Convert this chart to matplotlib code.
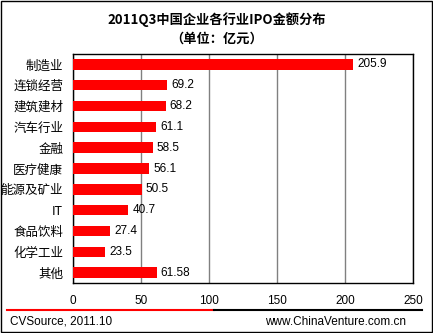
import matplotlib
matplotlib.use("Agg")
import matplotlib.pyplot as plt
from matplotlib.patches import Rectangle
from matplotlib.lines import Line2D

plt.rcParams['font.family'] = ['Noto Sans CJK SC', 'DejaVu Sans']

# 各行业IPO金额(亿元)
industries = ['制造业', '连锁经营', '建筑建材', '汽车行业', '金融', '医疗健康',
              '能源及矿业', 'IT', '食品饮料', '化学工业', '其他']
amounts = [205.9, 69.2, 68.2, 61.1, 58.5, 56.1, 50.5, 40.7, 27.4, 23.5, 61.58]
value_labels = ['205.9', '69.2', '68.2', '61.1', '58.5', '56.1', '50.5',
                '40.7', '27.4', '23.5', '61.58']
xticks = [0, 50, 100, 150, 200, 250]

fig = plt.figure(figsize=(4.33, 3.33), dpi=100)
ax = fig.add_axes([73/433, 1-283/333, 340/433, 229/333])

ypos = list(range(len(industries)))
ax.barh(ypos, amounts, height=0.5, color='#ff0000', zorder=3)
for y, v, s in zip(ypos, amounts, value_labels):
    ax.text(v + 3, y, s, va='center', ha='left', fontsize=8.5,
            family='Liberation Sans', zorder=4)

ax.set_ylim(len(industries) - 0.5, -0.5)
ax.set_xlim(0, 250)
ax.set_xticks(xticks)
ax.set_xticklabels([str(t) for t in xticks], family='Liberation Sans', fontsize=8.5)
ax.set_yticks(ypos)
ax.set_yticklabels(industries, fontsize=9)
ax.tick_params(axis='both', length=0, pad=7)
ax.tick_params(axis='x', pad=9)
ax.grid(axis='x', color='#808080', linewidth=1, zorder=0)
for sp in ax.spines.values():
    sp.set_color('black')
    sp.set_linewidth(1)

fig.text(0.5, 1-20/333, '2011Q3中国企业各行业IPO金额分布', ha='center', va='center',
         fontsize=9.5, fontweight='bold')
fig.text(0.5, 1-39/333, '（单位：亿元）', ha='center', va='center',
         fontsize=9.5, fontweight='bold')

# 底部分隔线和来源
fig.add_artist(Line2D([7/433, 214/433], [1-310/333]*2, color='#ff0000', linewidth=1.5))
fig.add_artist(Line2D([214/433, 422/433], [1-310/333]*2, color='black', linewidth=1.5))
fig.text(10/433, 1-322/333, 'CVSource, 2011.10', ha='left', va='center',
         fontsize=8.5, family='Liberation Sans')
fig.text(406/433, 1-322/333, 'www.ChinaVenture.com.cn', ha='right', va='center',
         fontsize=8.5, family='Liberation Sans')

fig.add_artist(Rectangle((1/433, 1/333), 431/433, 331/333, fill=False,
                         edgecolor='black', linewidth=1, transform=fig.transFigure))

fig.savefig('out.png', dpi=100)
